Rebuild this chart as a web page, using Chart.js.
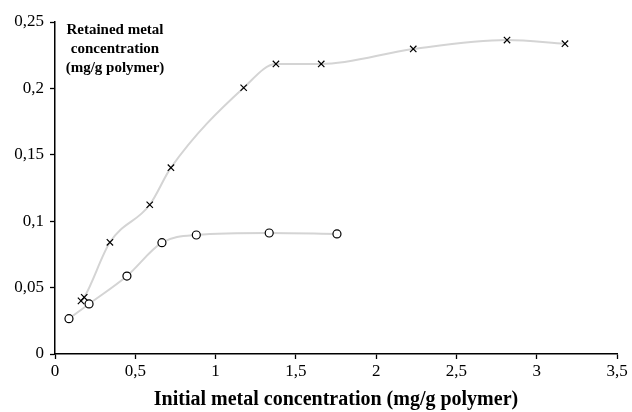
<!DOCTYPE html>
<html>
<head>
<meta charset="utf-8">
<script src="https://cdn.jsdelivr.net/npm/chart.js@4/dist/chart.umd.min.js"></script>
<style>
html,body{margin:0;padding:0;background:#fff;}
#wrap{width:632px;height:412px;position:relative;}
</style>
</head>
<body>
<div id="wrap"><canvas id="c" width="632" height="412"></canvas></div>
<script>
// Series with crosses
const crossX = [0.162, 0.182, 0.342, 0.590, 0.722, 1.175, 1.376, 1.658, 2.231, 2.815, 3.176];
const crossY = [0.040, 0.0427, 0.0841, 0.1124, 0.1403, 0.2005, 0.2184, 0.2184, 0.2297, 0.2364, 0.2337];
// Series with circles
const circX = [0.087, 0.212, 0.448, 0.666, 0.880, 1.334, 1.756];
const circY = [0.0266, 0.0377, 0.0587, 0.0838, 0.0896, 0.0911, 0.0904];

const yTitleLines = ["Retained metal", "concentration", "(mg/g polymer)"];
const xTitle = "Initial metal concentration (mg/g polymer)";

const toPts = (xs, ys) => xs.map((x, i) => ({x: x, y: ys[i]}));
const fmt = v => String(Math.round(v * 100) / 100).replace('.', ',');

const yTitlePlugin = {
  id: 'yTitle',
  afterDraw(chart) {
    const ctx = chart.ctx;
    ctx.save();
    ctx.font = 'bold 15px "Liberation Serif", serif';
    ctx.fillStyle = '#000';
    ctx.textAlign = 'center';
    ctx.textBaseline = 'middle';
    const cx = chart.chartArea.left + 60;
    yTitleLines.forEach((t, i) => ctx.fillText(t, cx, chart.chartArea.top + 8 + i * 19));
    ctx.restore();
  }
};

const serif = '"Liberation Serif", "Times New Roman", serif';

new Chart(document.getElementById('c'), {
  type: 'scatter',
  data: {
    datasets: [
      {
        data: toPts(crossX, crossY),
        showLine: true,
        cubicInterpolationMode: 'monotone',
        borderColor: '#d4d4d4',
        borderWidth: 2,
        pointStyle: 'crossRot',
        pointRadius: 4.5,
        pointBorderColor: '#000',
        pointBorderWidth: 1.2,
        pointBackgroundColor: '#000'
      },
      {
        data: toPts(circX, circY),
        showLine: true,
        cubicInterpolationMode: 'monotone',
        borderColor: '#d4d4d4',
        borderWidth: 2,
        pointStyle: 'circle',
        pointRadius: 4,
        pointBorderColor: '#000',
        pointBorderWidth: 1.2,
        pointBackgroundColor: '#fff'
      }
    ]
  },
  options: {
    responsive: false,
    animation: false,
    devicePixelRatio: 1,
    layout: {padding: {top: 22, right: 15, left: 0, bottom: 0}},
    plugins: {legend: {display: false}, tooltip: {enabled: false}},
    scales: {
      x: {
        type: 'linear',
        min: 0, max: 3.5,
        afterFit(s) { s.height = 58; },
        ticks: {stepSize: 0.5, color: '#000', font: {family: serif, size: 17}, padding: 2, callback: fmt, maxRotation: 0},
        grid: {drawOnChartArea: false, color: '#000', tickLength: 5, tickWidth: 1.3},
        border: {color: '#000', width: 1.5},
        title: {display: true, text: xTitle, color: '#000', font: {family: serif, size: 20, weight: 'bold'}, padding: {top: 2, bottom: 0}}
      },
      y: {
        type: 'linear',
        min: 0, max: 0.25,
        afterFit(s) { s.width = 55; },
        ticks: {stepSize: 0.05, color: '#000', font: {family: serif, size: 17}, padding: 6, callback: fmt},
        grid: {drawOnChartArea: false, color: '#000', tickLength: 5, tickWidth: 1.3},
        border: {color: '#000', width: 1.5}
      }
    }
  },
  plugins: [yTitlePlugin]
});
</script>
</body>
</html>
